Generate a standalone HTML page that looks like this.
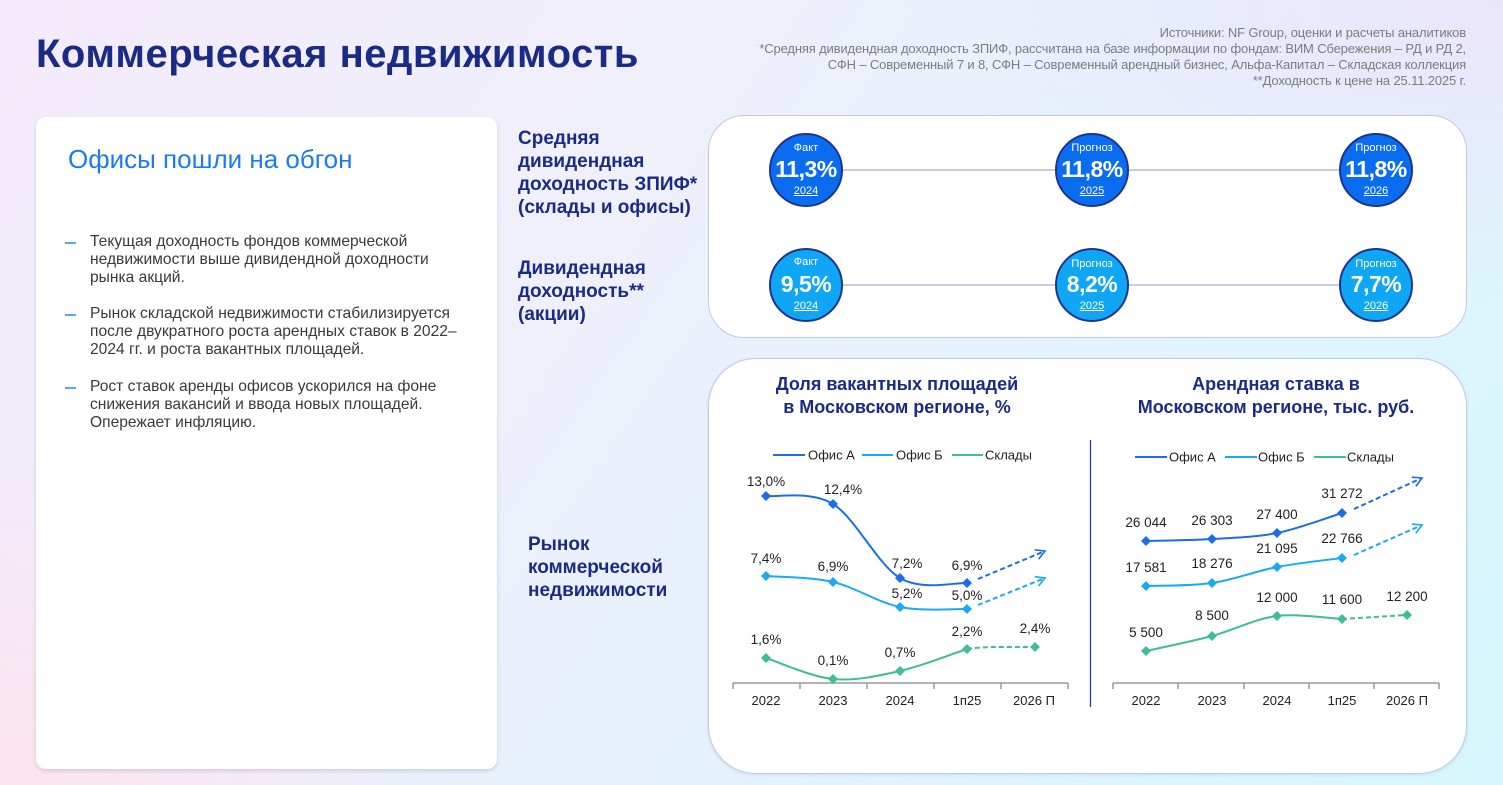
<!DOCTYPE html>
<html><head><meta charset="utf-8">
<style>
*{margin:0;padding:0;box-sizing:border-box}
html,body{width:1503px;height:785px;overflow:hidden}
body{position:relative;font-family:"Liberation Sans","Noto Sans CJK SC",sans-serif;
background:
radial-gradient(ellipse 420px 360px at 0% 100%, #fde3ee 0%, rgba(253,227,238,0) 100%),
radial-gradient(ellipse 600px 300px at 100% 0%, #ebe5fb 0%, rgba(235,229,251,0) 100%),
linear-gradient(125deg,#f4eafb 0%,#eff0fb 35%,#e6f2fd 60%,#dbf6fd 85%,#d6f7fd 100%);}
.abs{position:absolute}
.title{left:36px;top:32px;font-size:40px;font-weight:bold;color:#1a2b86;letter-spacing:0.5px;white-space:nowrap}
.src{right:37px;top:25px;text-align:right;font-size:13px;line-height:16px;color:#7c7c7c;white-space:nowrap;letter-spacing:-0.15px}
.card{left:36px;top:117px;width:461px;height:652px;background:#fff;border-radius:10px;box-shadow:0 2px 4px rgba(60,60,110,0.18)}
.card h2{position:absolute;left:32px;top:27px;font-size:26px;font-weight:normal;color:#1a7cf0;white-space:nowrap}
.bl{position:absolute;left:54px;font-size:15.6px;line-height:18.2px;color:#3a3a3a;white-space:nowrap}
.bl:before{content:"";position:absolute;left:-25px;top:9px;width:11px;height:1.5px;background:#5aa8f0}
.lab{font-size:19px;line-height:23px;font-weight:bold;color:#1a2b86;white-space:nowrap}
.box{background:#fff;border:1px solid #c3c9e2}
.circ{position:absolute;width:74px;height:74px;border-radius:50%;border:2px solid #1d3590;color:#fff;text-align:center}
.circ .s{position:absolute;left:0;right:0;font-size:11px}
.circ .b{position:absolute;left:0;right:0;top:21px;font-size:23px;font-weight:bold;letter-spacing:-0.5px}
.circ .u{position:absolute;left:0;right:0;top:50px;font-size:11px;text-decoration:underline}
.d1{background:#0a6cf0}
.d2{background:#0fa6f6}
.ct{font-size:18px;line-height:23px;font-weight:bold;color:#1a2b86;text-align:center;white-space:nowrap}
</style></head><body>
<div class="abs title">Коммерческая недвижимость</div>
<div class="abs src">Источники: NF Group, оценки и расчеты аналитиков<br>*Средняя дивидендная доходность ЗПИФ, рассчитана на базе информации по фондам: ВИМ Сбережения – РД и РД 2,<br>СФН – Современный 7 и 8, СФН – Современный арендный бизнес, Альфа-Капитал – Складская коллекция<br>**Доходность к цене на 25.11.2025 г.</div>

<div class="abs card">
<h2>Офисы пошли на обгон</h2>
<div class="bl" style="top:116px">Текущая доходность фондов коммерческой<br>недвижимости выше дивидендной доходности<br>рынка акций.</div>
<div class="bl" style="top:188px">Рынок складской недвижимости стабилизируется<br>после двукратного роста арендных ставок в 2022–<br>2024 гг. и роста вакантных площадей.</div>
<div class="bl" style="top:261px">Рост ставок аренды офисов ускорился на фоне<br>снижения вакансий и ввода новых площадей.<br>Опережает инфляцию.</div>
</div>

<div class="abs lab" style="left:518px;top:127px">Средняя<br>дивидендная<br>доходность ЗПИФ*<br>(склады и офисы)</div>
<div class="abs lab" style="left:518px;top:257px">Дивидендная<br>доходность**<br>(акции)</div>
<div class="abs lab" style="left:528px;top:533px">Рынок<br>коммерческой<br>недвижимости</div>

<div class="abs box" style="left:708px;top:115px;width:759px;height:223px;border-radius:36px"></div>
<div class="abs box" style="left:708px;top:358px;width:759px;height:416px;border-radius:48px;box-shadow:0 1px 3px rgba(80,90,150,0.15)"></div>

<svg class="abs" style="left:0;top:0" width="1503" height="785" viewBox="0 0 1503 785">
<defs>
<marker id="aA" markerWidth="12" markerHeight="12" refX="10" refY="6" orient="auto" markerUnits="userSpaceOnUse"><path d="M1,1 L10,6 L1,11" fill="none" stroke="#1a6fe8" stroke-width="1.6"/></marker>
<marker id="aB" markerWidth="12" markerHeight="12" refX="10" refY="6" orient="auto" markerUnits="userSpaceOnUse"><path d="M1,1 L10,6 L1,11" fill="none" stroke="#19aaf5" stroke-width="1.6"/></marker>
</defs>
<g stroke="#c8cde2" stroke-width="2">
<line x1="843" y1="170" x2="1055" y2="170"/><line x1="1129" y1="170" x2="1339" y2="170"/>
<line x1="843" y1="285" x2="1055" y2="285"/><line x1="1129" y1="285" x2="1339" y2="285"/>
</g>
<line x1="1090.5" y1="440" x2="1090.5" y2="707" stroke="#2a3a9a" stroke-width="1.3"/>

<g font-family="Liberation Sans, sans-serif" font-size="13" fill="#222">
<line x1="773" y1="455" x2="805" y2="455" stroke="#1a6fe8" stroke-width="2"/><text x="808" y="459.5">Офис А</text>
<line x1="862" y1="455" x2="893" y2="455" stroke="#19aaf5" stroke-width="2"/><text x="896" y="459.5">Офис Б</text>
<line x1="952" y1="455" x2="983" y2="455" stroke="#3dbd98" stroke-width="2"/><text x="985" y="459.5">Склады</text>
<line x1="1135" y1="457" x2="1167" y2="457" stroke="#1a6fe8" stroke-width="2"/><text x="1169" y="461.5">Офис А</text>
<line x1="1225" y1="457" x2="1257" y2="457" stroke="#19aaf5" stroke-width="2"/><text x="1258" y="461.5">Офис Б</text>
<line x1="1314" y1="457" x2="1346" y2="457" stroke="#3dbd98" stroke-width="2"/><text x="1347" y="461.5">Склады</text>
</g>

<g stroke="#9a9a9a" stroke-width="1.5" fill="none">
<path d="M733,683 H1068 M733,683 v6 M800,683 v6 M867,683 v6 M934,683 v6 M1001,683 v6 M1068,683 v6"/>
<path d="M1113,683 H1439 M1113,683 v6 M1178,683 v6 M1244,683 v6 M1309,683 v6 M1374,683 v6 M1439,683 v6"/>
</g>
<g font-family="Liberation Sans, sans-serif" font-size="13" fill="#222" text-anchor="middle">
<text x="766" y="705">2022</text><text x="833" y="705">2023</text><text x="900" y="705">2024</text><text x="967" y="705">1п25</text><text x="1034" y="705">2026 П</text>
<text x="1146" y="705">2022</text><text x="1212" y="705">2023</text><text x="1277" y="705">2024</text><text x="1342" y="705">1п25</text><text x="1407" y="705">2026 П</text>
</g>

<g fill="none" stroke-width="2">
<path stroke="#1a6fe8" d="M766,496 C777.2,497.3 810.7,490.3 833,504 C855.3,517.7 877.7,564.8 900,578 C922.3,591.2 955.8,582.2 967,583"/>
<path stroke="#19aaf5" d="M766,576 C777.2,577 810.7,576.8 833,582 C855.3,587.2 877.7,602.5 900,607 C922.3,611.5 955.8,608.7 967,609"/>
<path stroke="#3dbd98" d="M766,658 C777.2,661.5 810.7,676.8 833,679 C855.3,681.2 877.7,676 900,671 C922.3,666 955.8,652.7 967,649"/>
<path stroke="#3dbd98" stroke-dasharray="5,3" d="M967,649 C980,646.5 1005,647 1035,647"/>
<path stroke="#1a6fe8" stroke-dasharray="5,3" marker-end="url(#aA)" d="M978,579 L1045,551"/>
<path stroke="#19aaf5" stroke-dasharray="5,3" marker-end="url(#aB)" d="M978,605 L1045,578"/>
</g>
<g fill="none" stroke-width="2">
<path stroke="#1a6fe8" d="M1146,541 C1157,540.7 1190.2,540.3 1212,539 C1233.8,537.7 1255.3,537.3 1277,533 C1298.7,528.7 1331.2,516.3 1342,513"/>
<path stroke="#19aaf5" d="M1146,586 C1157,585.5 1190.2,586.2 1212,583 C1233.8,579.8 1255.3,571.2 1277,567 C1298.7,562.8 1331.2,559.5 1342,558"/>
<path stroke="#3dbd98" d="M1146,651 C1157,648.5 1190.2,641.8 1212,636 C1233.8,630.2 1255.3,618.5 1277,616 C1298.7,613.5 1331.2,618.5 1342,619"/>
<path stroke="#3dbd98" stroke-dasharray="5,3" d="M1342,619 L1407,615"/>
<path stroke="#1a6fe8" stroke-dasharray="5,3" marker-end="url(#aA)" d="M1354,509 L1422,478"/>
<path stroke="#19aaf5" stroke-dasharray="5,3" marker-end="url(#aB)" d="M1354,555 L1422,525"/>
</g>
<g>
<g fill="#1a6fe8">
<path d="M766,491 l5,5 -5,5 -5,-5z"/><path d="M833,499 l5,5 -5,5 -5,-5z"/><path d="M900,573 l5,5 -5,5 -5,-5z"/><path d="M967,578 l5,5 -5,5 -5,-5z"/>
<path d="M1146,536 l5,5 -5,5 -5,-5z"/><path d="M1212,534 l5,5 -5,5 -5,-5z"/><path d="M1277,528 l5,5 -5,5 -5,-5z"/><path d="M1342,508 l5,5 -5,5 -5,-5z"/>
</g>
<g fill="#19aaf5">
<path d="M766,571 l5,5 -5,5 -5,-5z"/><path d="M833,577 l5,5 -5,5 -5,-5z"/><path d="M900,602 l5,5 -5,5 -5,-5z"/><path d="M967,604 l5,5 -5,5 -5,-5z"/>
<path d="M1146,581 l5,5 -5,5 -5,-5z"/><path d="M1212,578 l5,5 -5,5 -5,-5z"/><path d="M1277,562 l5,5 -5,5 -5,-5z"/><path d="M1342,553 l5,5 -5,5 -5,-5z"/>
</g>
<g fill="#3dbd98">
<path d="M766,653 l5,5 -5,5 -5,-5z"/><path d="M833,674 l5,5 -5,5 -5,-5z"/><path d="M900,666 l5,5 -5,5 -5,-5z"/><path d="M967,644 l5,5 -5,5 -5,-5z"/><path d="M1035,642 l5,5 -5,5 -5,-5z"/>
<path d="M1146,646 l5,5 -5,5 -5,-5z"/><path d="M1212,631 l5,5 -5,5 -5,-5z"/><path d="M1277,611 l5,5 -5,5 -5,-5z"/><path d="M1342,614 l5,5 -5,5 -5,-5z"/><path d="M1407,610 l5,5 -5,5 -5,-5z"/>
</g>
</g>
<g font-family="Liberation Sans, sans-serif" font-size="13.5" fill="#222" text-anchor="middle">
<text x="766" y="486">13,0%</text><text x="843" y="494">12,4%</text><text x="907" y="568">7,2%</text><text x="967" y="570">6,9%</text>
<text x="766" y="563">7,4%</text><text x="833" y="571">6,9%</text><text x="907" y="598">5,2%</text><text x="967" y="600">5,0%</text>
<text x="766" y="644">1,6%</text><text x="833" y="665">0,1%</text><text x="900" y="657">0,7%</text><text x="967" y="636">2,2%</text><text x="1035" y="633">2,4%</text>
<text x="1146" y="527">26 044</text><text x="1212" y="525">26 303</text><text x="1277" y="519">27 400</text><text x="1342" y="498">31 272</text>
<text x="1146" y="572">17 581</text><text x="1212" y="568">18 276</text><text x="1277" y="553">21 095</text><text x="1342" y="543">22 766</text>
<text x="1146" y="637">5 500</text><text x="1212" y="620">8 500</text><text x="1277" y="602">12 000</text><text x="1342" y="604">11 600</text><text x="1407" y="601">12 200</text>
</g>
</svg>

<div class="abs ct" style="left:747px;top:373px;width:300px">Доля вакантных площадей<br>в Московском регионе, %</div>
<div class="abs ct" style="left:1126px;top:373px;width:300px">Арендная ставка в<br>Московском регионе, тыс. руб.</div>

<div class="circ d1" style="left:769px;top:133px"><div class="s" style="top:7px">Факт</div><div class="b">11,3%</div><div class="u">2024</div></div>
<div class="circ d1" style="left:1055px;top:133px"><div class="s" style="top:7px">Прогноз</div><div class="b">11,8%</div><div class="u">2025</div></div>
<div class="circ d1" style="left:1339px;top:133px"><div class="s" style="top:7px">Прогноз</div><div class="b">11,8%</div><div class="u">2026</div></div>
<div class="circ d2" style="left:769px;top:248px"><div class="s" style="top:6px">Факт</div><div class="b">9,5%</div><div class="u">2024</div></div>
<div class="circ d2" style="left:1055px;top:248px"><div class="s" style="top:8px">Прогноз</div><div class="b">8,2%</div><div class="u">2025</div></div>
<div class="circ d2" style="left:1339px;top:248px"><div class="s" style="top:8px">Прогноз</div><div class="b">7,7%</div><div class="u">2026</div></div>
</body></html>
